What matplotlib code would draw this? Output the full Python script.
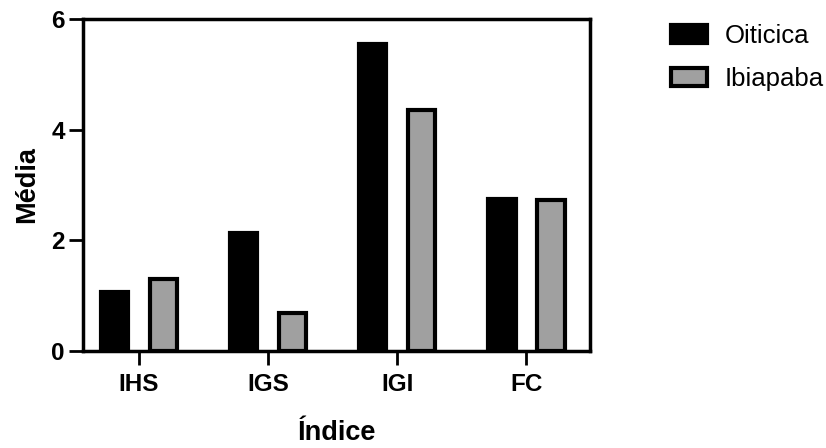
import numpy as np
import matplotlib
matplotlib.use("Agg")
from matplotlib import pyplot as plt

categories = ["IHS", "IGS", "IGI", "FC"]
oiticica = [1.07, 2.13, 5.55, 2.75]
ibiapaba = [1.30, 0.69, 4.36, 2.72]

plt.rcParams["font.family"] = ["Liberation Sans", "DejaVu Sans"]

fig = plt.figure(figsize=(8.26, 4.48), dpi=100)
ax = fig.add_axes([0.1005, 0.2165, 0.6135, 0.7415])

x = np.arange(len(categories))
w = 0.21
ax.bar(x - 0.19, oiticica, w, color="black", edgecolor="black", linewidth=3, label="Oiticica")
ax.bar(x + 0.19, ibiapaba, w, color="#a0a0a0", edgecolor="black", linewidth=3, label="Ibiapaba")

ax.set_xlim(-0.434, 3.49)
ax.set_ylim(0, 6)
ax.set_yticks([0, 2, 4, 6])
ax.set_xticks(x)
ax.set_xticklabels(categories, fontsize=17.5, fontweight="bold")
ax.tick_params(axis="y", labelsize=17.5, length=10, width=2, pad=3)
ax.tick_params(axis="x", length=10, width=2, pad=6)
for lab in ax.get_yticklabels():
    lab.set_fontweight("bold")
for s in ax.spines.values():
    s.set_linewidth(2.5)

ax.set_ylabel("Média", fontsize=19.5, fontweight="bold", labelpad=8)
ax.set_xlabel("Índice", fontsize=19.5, fontweight="bold", labelpad=17)

ax.legend(loc="upper left", bbox_to_anchor=(0.80, 0.97), bbox_transform=fig.transFigure,
          frameon=False, fontsize=18.5, handlelength=1.4, handleheight=0.68,
          handletextpad=0.7, labelspacing=0.75, borderaxespad=0)

fig.savefig("out.png", dpi=100)
